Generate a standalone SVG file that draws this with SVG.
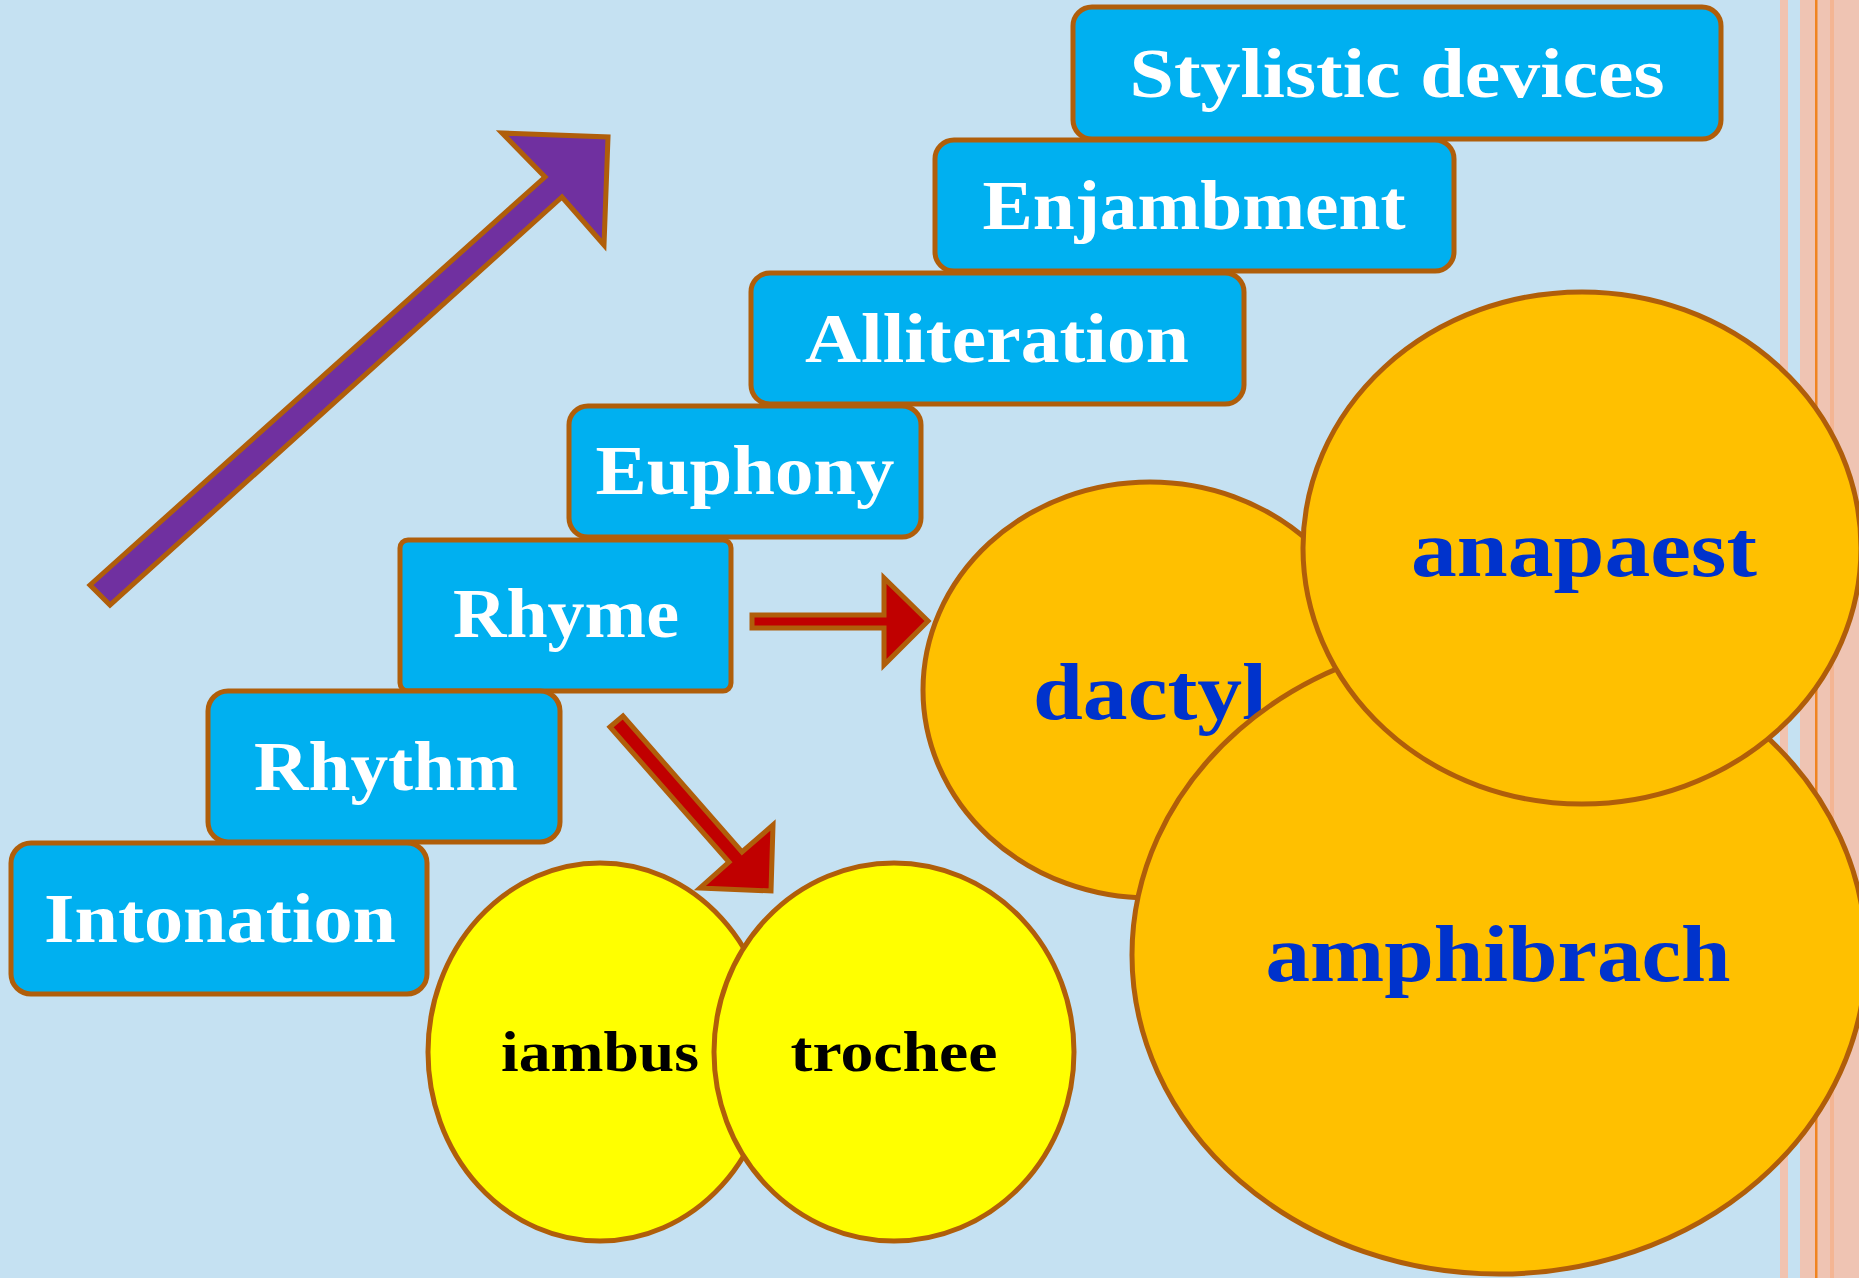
<svg xmlns="http://www.w3.org/2000/svg" width="1859" height="1278" viewBox="0 0 1859 1278">
  <style>
    .box { fill: #00B0F0; stroke: #B05E0A; stroke-width: 5; }
    .boxText { font-family: "Liberation Serif", "Times New Roman", serif; font-weight: bold; font-size: 69px; fill: #FFFFFF; text-anchor: middle; }
    .foot { fill: #FFC000; stroke: #B05E0A; stroke-width: 5; }
    .footText { font-family: "Liberation Serif", "Times New Roman", serif; font-weight: bold; font-size: 80px; fill: #0033CC; text-anchor: middle; }
    .meter { fill: #FFFF00; stroke: #B05E0A; stroke-width: 5; }
    .meterText { font-family: "Liberation Serif", "Times New Roman", serif; font-weight: bold; font-size: 57px; fill: #000000; text-anchor: middle; }
    .arrow { stroke: #B05E0A; stroke-width: 5; stroke-linejoin: miter; stroke-miterlimit: 10; }
  </style>

  <!-- background -->
  <rect x="0" y="0" width="1859" height="1278" fill="#C5E1F2"/>

  <!-- decorative stripes on the right edge -->
  <g id="edge-stripes">
    <rect x="1780" y="0" width="8" height="1278" fill="#F1C3B0"/>
    <rect x="1800" y="0" width="59" height="1278" fill="#EFC4B3"/>
    <rect x="1830" y="0" width="4" height="1278" fill="#F4B593"/>
    <rect x="1815" y="0" width="2.5" height="1278" fill="#F08420"/>
  </g>

  <!-- connectors -->
  <g id="connectors">
    <polygon id="rise-arrow" class="arrow" fill="#7030A0"
             points="90,585 545,177 502,133 608,137 604,245 562,197 110,605"/>
    <polygon id="rhyme-to-feet" class="arrow" fill="#C00000"
             points="752,615 884,615 884,578 928,621 884,665 884,628 752,628"/>
    <polygon id="rhyme-to-meters" class="arrow" fill="#C00000"
             points="610,727 623,716 742,852 773,825 771,891 700,888 729,862"/>
  </g>

  <!-- staircase of boxes -->
  <g id="node-stylistic-devices">
    <rect class="box" x="1073" y="7" width="648" height="132" rx="19"/>
    <text class="boxText" x="1397" y="97" textLength="535" lengthAdjust="spacingAndGlyphs">Stylistic devices</text>
  </g>
  <g id="node-enjambment">
    <rect class="box" x="935" y="140" width="519" height="131" rx="19"/>
    <text class="boxText" x="1194" y="229" textLength="423" lengthAdjust="spacingAndGlyphs">Enjambment</text>
  </g>
  <g id="node-alliteration">
    <rect class="box" x="751" y="273" width="493" height="131" rx="19"/>
    <text class="boxText" x="997" y="362" textLength="384" lengthAdjust="spacingAndGlyphs">Alliteration</text>
  </g>
  <g id="node-euphony">
    <rect class="box" x="569" y="406" width="352" height="131" rx="19"/>
    <text class="boxText" x="745" y="494" textLength="299" lengthAdjust="spacingAndGlyphs">Euphony</text>
  </g>
  <g id="node-rhyme">
    <rect class="box" x="400" y="540" width="331" height="151" rx="8"/>
    <text class="boxText" x="566" y="637" textLength="226" lengthAdjust="spacingAndGlyphs">Rhyme</text>
  </g>
  <g id="node-rhythm">
    <rect class="box" x="208" y="691" width="352" height="151" rx="20"/>
    <text class="boxText" x="386" y="790" textLength="264" lengthAdjust="spacingAndGlyphs">Rhythm</text>
  </g>
  <g id="node-intonation">
    <rect class="box" x="11" y="843" width="416" height="151" rx="20"/>
    <text class="boxText" x="220" y="942" textLength="352" lengthAdjust="spacingAndGlyphs">Intonation</text>
  </g>

  <!-- two-syllable meters -->
  <g id="node-iambus">
    <ellipse class="meter" cx="600" cy="1052" rx="172" ry="189"/>
    <text class="meterText" x="600" y="1071" textLength="198" lengthAdjust="spacingAndGlyphs">iambus</text>
  </g>
  <g id="node-trochee">
    <ellipse class="meter" cx="894" cy="1052" rx="180" ry="189"/>
    <text class="meterText" x="894" y="1071" textLength="207" lengthAdjust="spacingAndGlyphs">trochee</text>
  </g>

  <!-- three-syllable feet -->
  <g id="node-dactyl">
    <ellipse class="foot" cx="1150" cy="690" rx="227" ry="208"/>
    <text class="footText" x="1033" y="719" textLength="234" lengthAdjust="spacingAndGlyphs" style="text-anchor:start">dactyl</text>
  </g>
  <g id="node-amphibrach">
    <ellipse class="foot" cx="1499" cy="955" rx="367" ry="319"/>
    <text class="footText" x="1498" y="981" textLength="465" lengthAdjust="spacingAndGlyphs">amphibrach</text>
  </g>
  <g id="node-anapaest">
    <ellipse class="foot" cx="1582" cy="548" rx="279" ry="256"/>
    <text class="footText" x="1584" y="576" textLength="346" lengthAdjust="spacingAndGlyphs">anapaest</text>
  </g>
</svg>
